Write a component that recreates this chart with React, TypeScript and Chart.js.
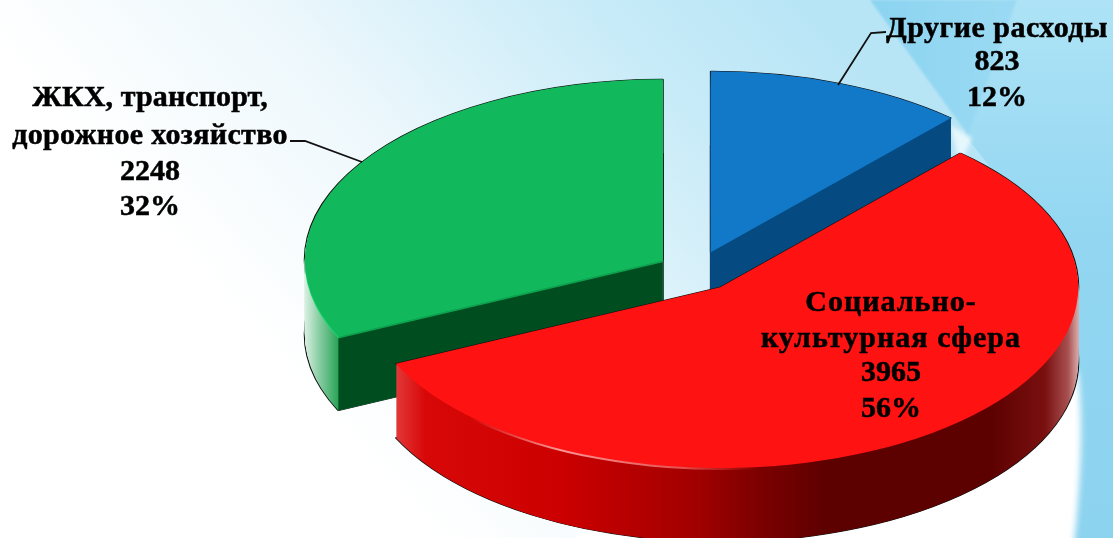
import React, { useEffect, useRef } from "react";
import { Chart, registerables } from "chart.js";

Chart.register(...registerables);

const categories = ["Другие расходы", "Социально-культурная сфера", "ЖКХ, транспорт, дорожное хозяйство"];
const values = [823, 3965, 2248];
const percents = ["12%", "56%", "32%"];
const labelLines = [["Другие расходы"], ["Социально-", "культурная сфера"], ["ЖКХ, транспорт,", "дорожное хозяйство"]];
const topColors = ["#1278c8", "#ff1212", "#12b85c"];
const wallColors = ["#054a80", "#a00000", "#004d20"];
const rimStops: [number, string][][] = [
  [[0, "#054a80"], [1113, "#054a80"]],
  [[395, "#e23a3a"], [425, "#d80808"], [560, "#cc0000"], [700, "#a00000"], [760, "#7c0000"], [830, "#5c0000"], [990, "#5c0000"], [1045, "#7a1010"], [1068, "#a85050"], [1078, "#d8a8a8"]],
  [[305, "#d8efe0"], [318, "#8fd0a8"], [340, "#20a050"]],
];
const edgeStops: [number, string][][] = [
  [],
  [[470, "rgba(255,160,160,0)"], [560, "rgba(255,170,170,0.9)"], [680, "rgba(255,120,120,0.7)"], [760, "rgba(255,60,60,0)"]],
  [[305, "rgba(20,230,120,0.9)"], [345, "rgba(20,220,110,0.6)"]],
];
const frontWalls = [["end"], [], ["start"]];
const labelCentersX = [997, 891, 150];
const labelRowsY = [[29, 62, 98], [303, 339, 373, 409], [98, 136, 172, 207]];
const letterGaps = [["0.5px"], ["1px", "1.05px"], ["0.1px", "0.35px"]];
const leaders = [[[886, 32], [871, 33], [838, 85]], [], [[290, 141], [305, 141], [362, 162]]];

const EXPLODE = 40;
const SQUASH = 0.505;
const CENTER_Y = 271;
const DEPTH = 74;

function paintBackground(ctx: CanvasRenderingContext2D, w: number, h: number) {
  ctx.save();
  ctx.fillStyle = "#ffffff";
  ctx.fillRect(0, 0, w, h);
  const g = ctx.createLinearGradient(330, 420, 800, 0);
  g.addColorStop(0, "#ffffff");
  g.addColorStop(0.35, "#eef8fc");
  g.addColorStop(0.75, "#c8ebf8");
  g.addColorStop(1, "#b8e5f6");
  ctx.fillStyle = g;
  ctx.fillRect(0, 0, w, h);
  // right hand blue band
  const g2 = ctx.createLinearGradient(0, 0, 0, 538);
  g2.addColorStop(0, "#aee3f6");
  g2.addColorStop(0.45, "#92d6f1");
  g2.addColorStop(1, "#8cd3ef");
  ctx.fillStyle = g2;
  ctx.beginPath();
  ctx.moveTo(1000, 0);
  ctx.lineTo(1113, 0);
  ctx.lineTo(1113, 538);
  ctx.lineTo(1000, 538);
  ctx.lineTo(1000, 180);
  ctx.lineTo(965, 135);
  ctx.closePath();
  ctx.fill();
  // the wedge at the top
  ctx.filter = "blur(1px)";
  const g4 = ctx.createLinearGradient(870, 0, 1017, 0);
  g4.addColorStop(0, "#8cd4f1");
  g4.addColorStop(1, "#9bdaf3");
  ctx.fillStyle = g4;
  ctx.beginPath();
  ctx.moveTo(870, 0);
  ctx.lineTo(1017, 0);
  ctx.lineTo(968, 135);
  ctx.closePath();
  ctx.fill();
  // white notch and white sweep under the pie
  ctx.filter = "blur(3px)";
  ctx.fillStyle = "#ffffff";
  ctx.beginPath();
  ctx.moveTo(560, 560);
  ctx.lineTo(650, 430);
  ctx.lineTo(1000, 340);
  ctx.lineTo(1078, 372);
  ctx.quadraticCurveTo(1086, 450, 1072, 560);
  ctx.closePath();
  ctx.fill();
  ctx.filter = "blur(2px)";
  ctx.fillStyle = "rgba(235,248,253,0.9)";
  ctx.beginPath();
  ctx.moveTo(950, 125);
  ctx.lineTo(972, 138);
  ctx.lineTo(960, 165);
  ctx.closePath();
  ctx.fill();
  ctx.restore();
}

const pie3d = {
  id: "pie3d",
  beforeDraw(chart: any) {
    paintBackground(chart.ctx, chart.width, chart.height);
  },
  beforeDatasetsDraw(chart: any) {
    const ctx: CanvasRenderingContext2D = chart.ctx;
    const arcs = chart.getDatasetMeta(0).data;
    const order = [0, 2, 1];
    const midY = chart.chartArea.top + chart.chartArea.height / 2;
    const place = (mid: number, dy: number) => {
      ctx.translate(0, CENTER_Y + dy);
      ctx.scale(1, SQUASH);
      ctx.translate(Math.cos(mid) * EXPLODE, -midY + Math.sin(mid) * EXPLODE);
    };
    const drawArc = (arc: any, mid: number, dy: number, opts: any) => {
      ctx.save();
      place(mid, dy);
      const saved = arc.options;
      arc.options = { ...saved, ...opts };
      arc.draw(ctx);
      arc.options = saved;
      ctx.restore();
    };
    const makeGrad = (stops: [number, string][], shift: number) => {
      const x0 = stops[0][0];
      const x1 = stops[stops.length - 1][0];
      const grad = ctx.createLinearGradient(x0 - shift, 0, x1 - shift, 0);
      for (const [x, c] of stops) grad.addColorStop((x - x0) / (x1 - x0), c);
      return grad;
    };
    for (const i of order) {
      const arc = arcs[i];
      const mid = (arc.startAngle + arc.endAngle) / 2;
      const shift = Math.cos(mid) * EXPLODE;
      const outline = { backgroundColor: "#111111", borderColor: "#111111", borderWidth: 2, borderAlign: "center" };
      drawArc(arc, mid, DEPTH, outline);
      drawArc(arc, mid, 0, outline);
      const rim = makeGrad(rimStops[i], shift);
      for (let d = DEPTH; d > 0; d--) {
        drawArc(arc, mid, d, { backgroundColor: rim, borderWidth: 0 });
      }
      // flat radial walls, from the arc's own geometry
      const cx = arc.x + shift;
      const cy = arc.y + Math.sin(mid) * EXPLODE;
      const py = (y: number) => CENTER_Y + (y - midY) * SQUASH;
      for (const side of frontWalls[i]) {
        const a = side === "start" ? arc.startAngle : arc.endAngle;
        const rx = cx + Math.cos(a) * arc.outerRadius;
        const ry = py(cy + Math.sin(a) * arc.outerRadius);
        ctx.fillStyle = wallColors[i];
        ctx.beginPath();
        ctx.moveTo(cx, py(cy));
        ctx.lineTo(rx, ry);
        ctx.lineTo(rx, ry + DEPTH);
        ctx.lineTo(cx, py(cy) + DEPTH);
        ctx.closePath();
        ctx.fill();
      }
      if (edgeStops[i].length) {
        drawArc(arc, mid, 2, { backgroundColor: makeGrad(edgeStops[i], shift), borderWidth: 0 });
      }
      drawArc(arc, mid, 0, { backgroundColor: topColors[i], borderWidth: 0 });
    }
    return false;
  },
  afterDraw(chart: any) {
    const ctx: CanvasRenderingContext2D = chart.ctx;
    ctx.save();
    ctx.strokeStyle = "#111111";
    ctx.lineWidth = 1.8;
    for (const pts of leaders) {
      if (!pts.length) continue;
      ctx.beginPath();
      pts.forEach((p, k) => (k ? ctx.lineTo(p[0], p[1]) : ctx.moveTo(p[0], p[1])));
      ctx.stroke();
    }
    ctx.fillStyle = "#000000";
    ctx.textAlign = "center";
    ctx.textBaseline = "middle";
    ctx.font = 'bold 30px "Liberation Serif"';
    ctx.lineWidth = 0.5;
    ctx.strokeStyle = "#000000";
    labelLines.forEach((ls, i) => {
      const lines = [...ls, String(values[i]), percents[i]];
      lines.forEach((t, k) => {
        (ctx as any).letterSpacing = k < ls.length ? letterGaps[i][k] : "0px";
        ctx.fillText(t, labelCentersX[i], labelRowsY[i][k]);
        ctx.strokeText(t, labelCentersX[i], labelRowsY[i][k]);
      });
    });
    ctx.restore();
  },
};

export default function App() {
  const ref = useRef<HTMLCanvasElement>(null);
  useEffect(() => {
    document.body.style.margin = "0";
    const chart = new Chart(ref.current!, {
      type: "pie",
      data: {
        labels: categories,
        datasets: [{ data: values, backgroundColor: topColors, borderWidth: 0 }],
      },
      options: {
        animation: false,
        responsive: false,
        radius: 358,
        layout: { padding: { left: 280 } },
        plugins: { legend: { display: false }, tooltip: { enabled: false } },
      } as any,
      plugins: [pie3d as any],
    });
    return () => chart.destroy();
  }, []);
  return <canvas ref={ref} width={1113} height={538} style={{ display: "block", width: 1113, height: 538 }} />;
}
